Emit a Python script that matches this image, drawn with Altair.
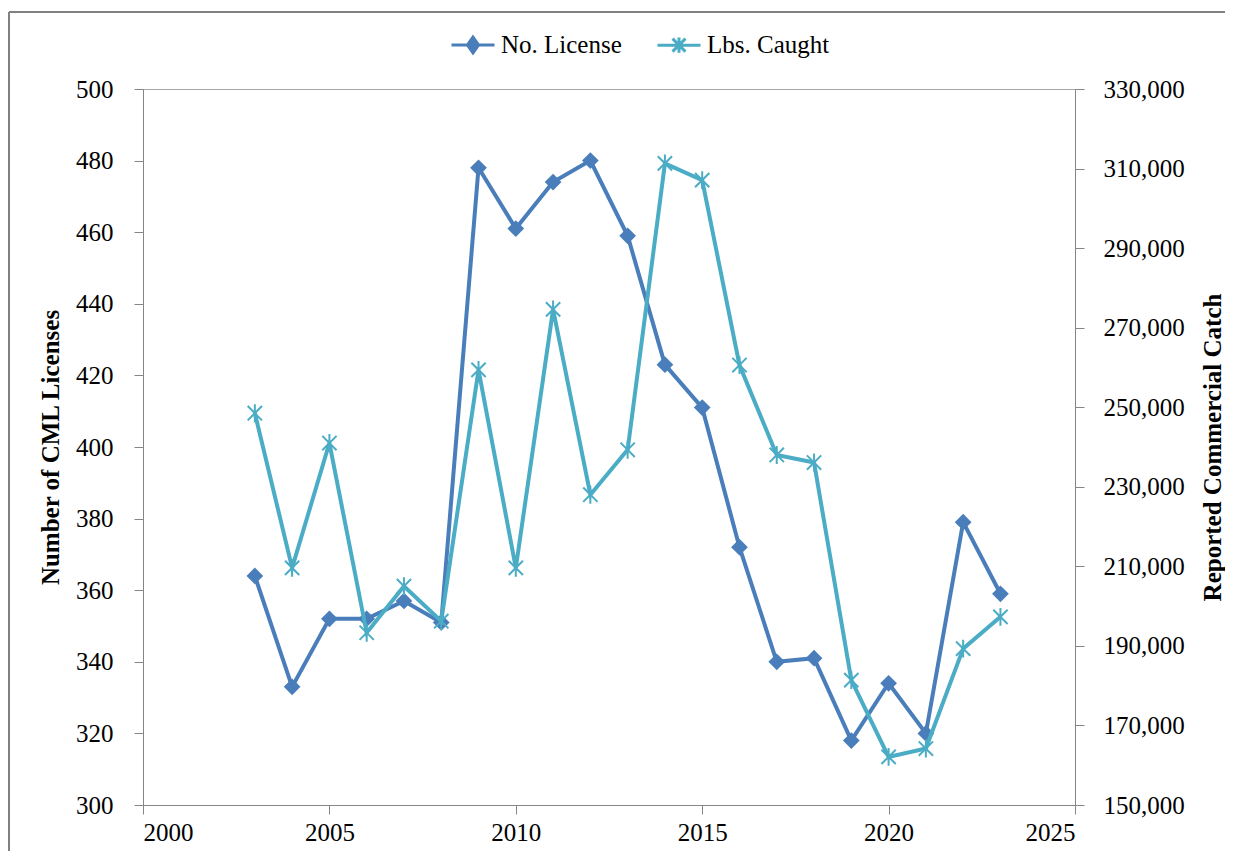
import altair as alt
import pandas as pd

years = list(range(2003, 2024))
licenses = [364, 333, 352, 352, 357, 351, 478, 461, 474, 480, 459,
            423, 411, 372, 340, 341, 318, 334, 320, 379, 359]
lbs_caught = [248500, 209600, 241000, 193300, 205000, 196200, 259400,
              209600, 274600, 228000, 239300, 311300, 307100, 260600,
              238000, 236100, 181400, 162100, 164200, 189300, 197300]
series_names = ["No. License", "Lbs. Caught"]
left_ticks = list(range(300, 501, 20))
right_ticks = list(range(150000, 330001, 20000))
x_ticks = list(range(2000, 2026, 5))

C_LIC = "#4A7EBB"
C_LBS = "#4BACC6"
AXIS_C = "#868686"
FONT = "Liberation Serif"

ASTER = "M-0.8,-0.8L0.8,0.8M-0.8,0.8L0.8,-0.8M0,-1L0,1"
LEG_LIC = "M-1,0L1,0M0,-0.37L0.26,0L0,0.37L-0.26,0Z"
LEG_LBS = "M-1,0L1,0M-0.3,-0.3L0.3,0.3M-0.3,0.3L0.3,-0.3M0,-0.36L0,0.36"

df = pd.DataFrame({"year": years, "lic": licenses, "lbs": lbs_caught})
legend_df = pd.DataFrame({"series": series_names, "year": [1990, 1990], "lic": [400, 400]})

xenc = alt.X("year:Q",
             scale=alt.Scale(domain=[2000, 2025], nice=False, zero=False),
             axis=alt.Axis(values=x_ticks, format="d", title=None, labelPadding=6))

y_left = alt.Y("lic:Q",
               scale=alt.Scale(domain=[300, 500], nice=False, zero=False),
               axis=alt.Axis(values=left_ticks, format="d", title="Number of CML Licenses",
                             orient="left", labelPadding=21,
                             titleX=-93, titleY=358, titleAngle=270,
                             titleAlign="center", titleBaseline="middle"))
y_right = alt.Y("lbs:Q",
                scale=alt.Scale(domain=[150000, 330000], nice=False, zero=False),
                axis=alt.Axis(values=right_ticks, format=",.0f", title="Reported Commercial Catch",
                              orient="right", labelPadding=19,
                              titleX=137, titleY=358, titleAngle=270,
                              titleAlign="center", titleBaseline="middle"))

base = alt.Chart(df)
lic_line = base.mark_line(color=C_LIC, strokeWidth=4).encode(x=xenc, y=y_left)
lic_pts = base.mark_point(shape="diamond", filled=True, size=280, color=C_LIC, opacity=1).encode(x=xenc, y=y_left)

leg_scale_fill = alt.Scale(domain=series_names, range=[C_LIC, C_LBS])
leg_scale_shape = alt.Scale(domain=series_names, range=[LEG_LIC, LEG_LBS])
leg = alt.Legend(title=None, orient="none", legendX=307, legendY=-67,
                 direction="horizontal", labelFont=FONT, labelFontSize=25,
                 labelColor="black", symbolSize=1849, symbolStrokeWidth=3,
                 labelOffset=5, columnPadding=29, symbolType=LEG_LIC)
leg_layer = alt.Chart(legend_df).mark_point(size=0, strokeWidth=3, opacity=1, clip=True).encode(
    x=xenc,
    y=alt.Y("lic:Q", scale=alt.Scale(domain=[300, 500], nice=False, zero=False)),
    fill=alt.Fill("series:N", scale=leg_scale_fill, legend=leg),
    stroke=alt.Stroke("series:N", scale=leg_scale_fill, legend=leg),
    shape=alt.Shape("series:N", scale=leg_scale_shape, legend=leg),
)

lic_layer = alt.layer(lic_line, lic_pts, leg_layer)

lbs_line = base.mark_line(color=C_LBS, strokeWidth=4).encode(x=xenc, y=y_right)
lbs_pts = base.mark_point(shape=ASTER, filled=False, size=320, color=C_LBS,
                          strokeWidth=2, opacity=1).encode(x=xenc, y=y_right)
lbs_layer = alt.layer(lbs_line, lbs_pts)

border = alt.Chart(alt.Data(values=[{"k": 1}]))
border_top = border.mark_rule(color="#808080", strokeWidth=2).encode(
    x=alt.value(-134), x2=alt.value(1110), y=alt.value(-77))
border_left = border.mark_rule(color="#808080", strokeWidth=2).encode(
    x=alt.value(-134), y=alt.value(-77), y2=alt.value(800))

chart = alt.layer(border_top, border_left, lic_layer, lbs_layer).resolve_scale(
    y="independent", fill="shared", stroke="shared", shape="shared"
).properties(
    width=932, height=716,
    background="white",
    padding={"left": 135, "top": 81, "right": 150, "bottom": 46},
    autosize=alt.AutoSizeParams(type="none"),
).configure_view(
    stroke="#a6a6a6", strokeWidth=1
).configure_axis(
    grid=False, domainColor=AXIS_C, tickColor=AXIS_C, domainWidth=1, tickWidth=1,
    tickSize=9, labelFont=FONT, labelFontSize=25, labelColor="black",
    titleFont=FONT, titleFontSize=25, titleFontWeight="bold", titleColor="black",
)

chart.save("out.html", embed_options={"renderer": "svg", "actions": False})
